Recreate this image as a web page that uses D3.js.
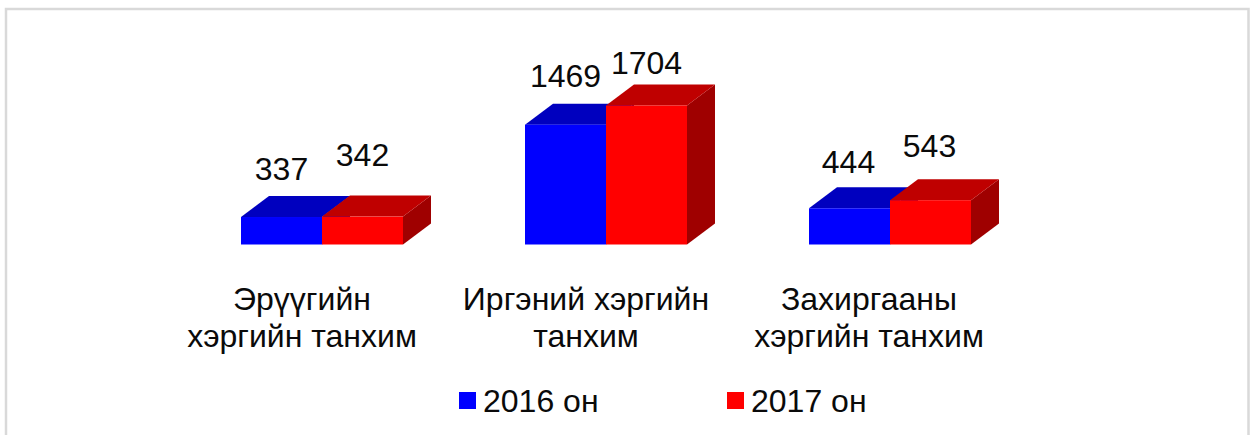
<!DOCTYPE html>
<html><head><meta charset="utf-8">
<script src="https://cdn.jsdelivr.net/npm/d3@7/dist/d3.min.js"></script>
<style>html,body{margin:0;padding:0;background:#fff;overflow:hidden}svg{display:block}text{font-family:"Liberation Sans",Arial,sans-serif;fill:#0a0a0a}</style>
</head><body><svg id="c" width="1254" height="435"></svg>
<script>
const categories = ["Эрүүгийн танхим", "Иргэний танхим", "Захиргааны танхим"];
const categoryLines = [["Эрүүгийн", "хэргийн танхим"], ["Иргэний хэргийн", "танхим"], ["Захиргааны", "хэргийн танхим"]];
const seriesNames = ["2016 он", "2017 он"];
const values2016 = [337, 1469, 444];
const values2017 = [342, 1704, 543];
const frontColors = ["#0000ff", "#ff0000"];
const topColors = ["#0000bf", "#bf0000"];
const sideColors = ["#00009f", "#9f0000"];
const labelLift = [[37.5, 50.5], [38, 32], [35.5, 43.5]];
const labelShift = [[0, 0], [0, 0], [-1, -1]];
const labelCenters = [-20, -20, -21];

const svg = d3.select("#c");
svg.append("path").attr("d", "M6,435V9H1248.5V435").attr("fill", "none").attr("stroke", "#d9d9d9").attr("stroke-width", 2.5);

const x0 = d3.scaleBand().domain(categories).range([180, 1032]).paddingInner(0.4296).paddingOuter(0.2148);
const x1 = d3.scaleBand().domain(seriesNames).range([0, x0.bandwidth()]);
const y = d3.scaleLinear().domain([0, 1704]).range([244.5, 105.5]);
const dx = 28, dy = -21;
const series = [values2016, values2017];

categories.forEach((cat, c) => {
  const g = svg.append("g").attr("transform", `translate(${x0(cat)},0)`);
  seriesNames.forEach((name, s) => {
    const v = series[s][c];
    const l = x1(name), r = l + x1.bandwidth(), t = y(v), b = y(0);
    const poly = pts => d3.line()(pts);
    const sg = g.append("g");
    sg.append("path").attr("d", poly([[r, t], [r + dx, t + dy], [r + dx, b + dy], [r, b]]) + "Z").attr("fill", sideColors[s]);
    sg.append("path").attr("d", poly([[l, t], [l + dx, t + dy], [r + dx, t + dy], [r, t]]) + "Z").attr("fill", topColors[s]);
    sg.append("rect").attr("x", l).attr("y", t).attr("width", r - l).attr("height", b - t).attr("fill", frontColors[s]);
    svg.append("text").attr("class", "val")
      .attr("x", x0(cat) + l + x1.bandwidth() / 2 + labelShift[c][s]).attr("y", t - labelLift[c][s])
      .attr("text-anchor", "middle").attr("font-size", 32).text(v);
  });
  categoryLines[c].forEach((line, i) => {
    svg.append("text").attr("x", x0(cat) + x0.bandwidth() / 2 + labelCenters[c]).attr("y", 309.5 + i * 37)
      .attr("text-anchor", "middle").attr("font-size", 32).text(line);
  });
});
svg.selectAll("text.val").raise();

const legendX = d3.scalePoint().domain(seriesNames).range([459, 727]);
seriesNames.forEach((name, s) => {
  svg.append("rect").attr("x", legendX(name)).attr("y", 392).attr("width", 17).attr("height", 17).attr("fill", frontColors[s]);
  svg.append("text").attr("x", legendX(name) + 24).attr("y", 411.5).attr("font-size", 32).text(name);
});
</script></body></html>
